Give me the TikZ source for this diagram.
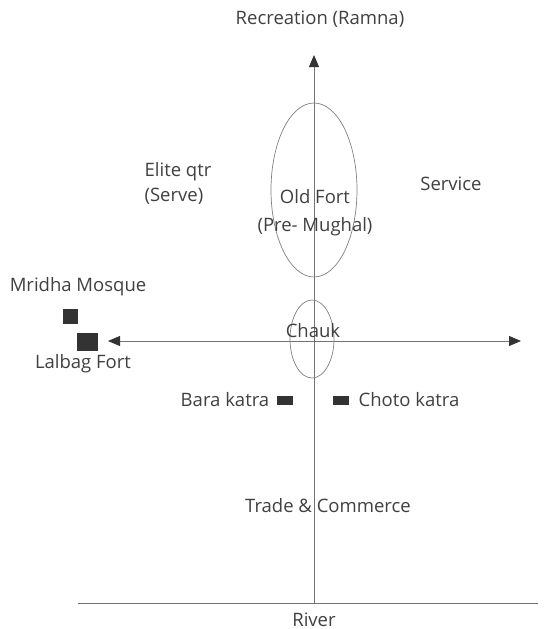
\documentclass[tikz,border=0pt]{standalone}
\usepackage{fontspec}
\setmainfont{Open Sans}
\usetikzlibrary{arrows.meta,shapes.geometric}

\tikzset{
    lbl/.style={text=black!75, font=\fontsize{18.5}{25}\selectfont, inner sep=1pt, align=center},
    axis/.style={draw=black!55, line width=0.8pt},
    tip/.style={-{Triangle[length=12pt,width=10pt,black!80]}},
    zone/.style={draw=black!50, line width=0.7pt, ellipse, inner sep=0pt},
    site/.style={fill=black!80, inner sep=0pt}
}

\begin{document}
\begin{tikzpicture}[x=1pt,y=-1pt]
\useasboundingbox (0,0) rectangle (547,629);

% axes
\coordinate (top) at (314,55);
\coordinate (bottom) at (314,603);
\coordinate (west) at (108,341);
\coordinate (east) at (521,341);
\coordinate (riverW) at (78,603);
\coordinate (riverE) at (538,603);

\draw[axis] (riverW) -- (riverE);
\draw[axis,tip] (bottom) -- (top);
\draw[axis,{Triangle[length=12pt,width=10pt,black!80]}-{Triangle[length=12pt,width=10pt,black!80]}] (west) -- (east);

% zones
\node[zone, minimum width=86pt, minimum height=174pt] (oldfortzone) at (314,190) {};
\node[zone, minimum width=44pt, minimum height=78pt] (chaukzone) at (312,339) {};

% labels
\node[lbl] (recreation) at (320,19) {Recreation (Ramna)};
\node[lbl, align=left] (elite) at (178,183) {Elite qtr\\(Serve)};
\node[lbl, font=\fontsize{18.5}{28}\selectfont] (oldfort) at (315,213) {Old Fort\\(Pre- Mughal)};
\node[lbl] (service) at (451,184) {Service};
\node[lbl] (mridha) at (78,287) {Mridha Mosque};
\node[lbl] (lalbag) at (83,364) {Lalbag Fort};
\node[lbl] (chauk) at (313,331) {Chauk};
\node[lbl] (bara) at (225,400) {Bara katra};
\node[lbl] (choto) at (409,400) {Choto katra};
\node[lbl] (trade) at (328,506) {Trade \& Commerce};
\node[lbl, anchor=base] (river) at (314,626) {River};

% sites
\node[site, minimum width=15pt, minimum height=15pt] (mosque) at (70,316) {};
\node[site, minimum width=21pt, minimum height=18pt] (fort) at (87,342) {};
\node[site, minimum width=16pt, minimum height=9pt] (barasq) at (285,400) {};
\node[site, minimum width=16pt, minimum height=9pt] (chotosq) at (341,400) {};

\end{tikzpicture}
\end{document}
